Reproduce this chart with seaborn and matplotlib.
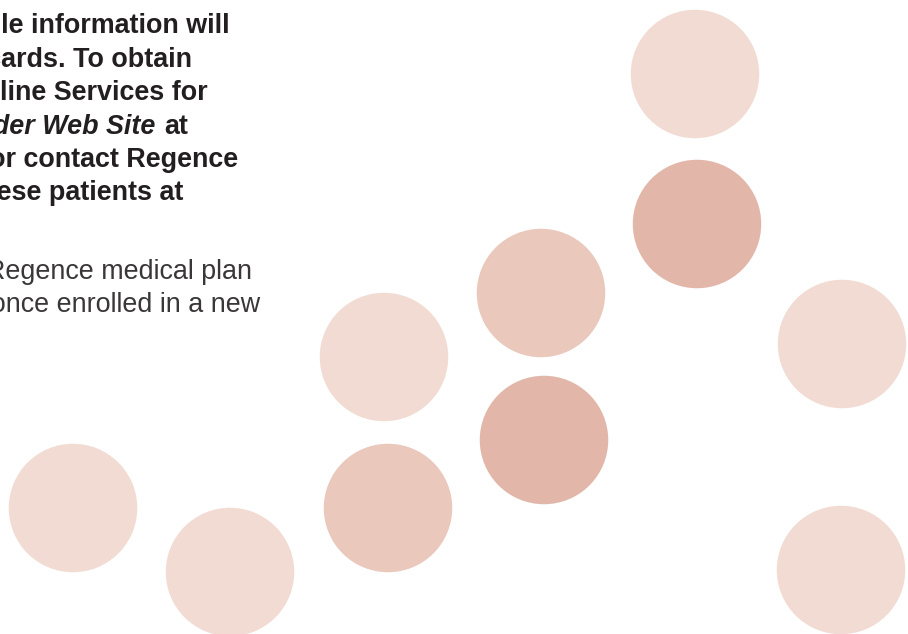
import matplotlib
matplotlib.use("Agg")
import matplotlib.pyplot as plt
import seaborn as sns
import pandas as pd

# ---- data ----
circle_x = [695, 697, 541, 544, 384, 388, 842, 841, 73, 230]
circle_y = [74, 224, 293, 440, 357, 508, 344, 570, 508, 572]
circle_shade = ["light", "dark", "medium", "dark", "light", "medium",
                "light", "light", "light", "light"]
shade_colors = {"light": "#F2DBD3", "medium": "#EAC8BC", "dark": "#E2B6A8"}

bold_lines = [
    "applicable information will",
    "on their ID cards. To obtain",
    "eligibility, use Online Services for",
    None,  # mixed italic line
    "regence.com or contact Regence",
    "Customer Service for these patients at",
]
bold_line_right = [230, 192, 208, None, 238, 183]
italic_part = "Providers on our Provider Web Site"
italic_tail = "at"
regular_lines = [
    "Coverage under the Regence medical plan",
    "will begin once enrolled in a new",
]
regular_line_right = [252, 260]

W, H = 908, 634
sns.set_theme(style="white")
plt.rcParams['font.family'] = ['Liberation Sans', 'DejaVu Sans']

fig = plt.figure(figsize=(W / 100, H / 100), dpi=100)
ax = fig.add_axes([0, 0, 1, 1])
df = pd.DataFrame({"x": circle_x, "y": circle_y, "shade": circle_shade})
diam_pt = 128.5 * 0.72
sns.scatterplot(data=df, x="x", y="y", hue="shade", palette=shade_colors,
                s=diam_pt ** 2, linewidth=0, legend=False, ax=ax, zorder=1)
ax.set_xlim(0, W)
ax.set_ylim(H, 0)
ax.axis("off")

fs = 19.4
dark = "#231F20"
lh = 33.4
base0 = 33.3
for i, (txt, xr) in enumerate(zip(bold_lines, bold_line_right)):
    yb = base0 + i * lh
    if txt is None:
        ax.text(155, yb, italic_part, ha="right", va="baseline", fontsize=fs,
                fontweight="bold", fontstyle="italic", color=dark)
        ax.text(188, yb, italic_tail, ha="right", va="baseline", fontsize=fs,
                fontweight="bold", color=dark)
    else:
        ax.text(xr, yb, txt, ha="right", va="baseline", fontsize=fs,
                fontweight="bold", color=dark)

reg_base = 279
for i, (txt, xr) in enumerate(zip(regular_lines, regular_line_right)):
    ax.text(xr, reg_base + i * lh, txt, ha="right", va="baseline", fontsize=fs,
            color="#3a3738")

fig.savefig("out.png", dpi=100)
